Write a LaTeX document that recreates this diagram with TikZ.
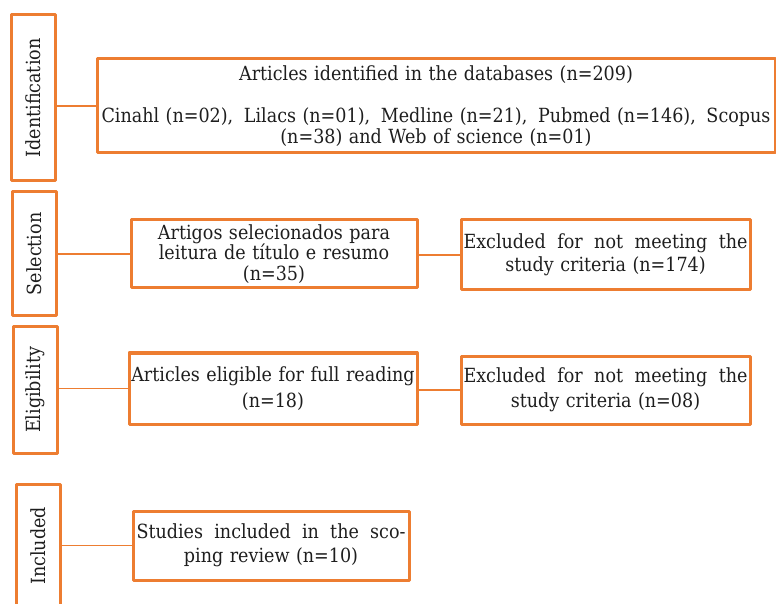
\documentclass[tikz,border=0pt]{standalone}
\usepackage{fontspec}
\setmainfont[FakeStretch=0.9]{DejaVu Serif}
\definecolor{prisma}{RGB}{237,125,49}
\definecolor{ink}{RGB}{30,30,30}

\begin{document}
\begin{tikzpicture}[x=1pt, y=1pt, font=\fontsize{19.5}{20.5}\selectfont, line join=round,
		stage/.style={draw=prisma, line width=3pt, inner sep=0pt, minimum width=44pt, text=ink},
		box/.style={draw=prisma, line width=3pt, inner sep=2pt, align=center, text=ink},
		link/.style={draw=prisma, line width=1.6pt}]
			\useasboundingbox (0,0) rectangle (776,603);
			\clip (0,0) rectangle (776,603);
			
			% phases on the left
			\node[stage, minimum height=166pt] (ident) at (33,505) {\rotatebox{90}{Identification}};
			\node[stage, minimum height=124pt] (selec) at (34,349) {\rotatebox{90}{Selection}};
			\node[stage, minimum height=126pt] (eligib) at (35,213) {\rotatebox{90}{Eligibility}};
			\node[stage, minimum height=124pt] (inclu) at (38,57) {\rotatebox{90}{Included}};
			
			\node[box, minimum width=678pt, minimum height=94pt, text width=669pt] (found) at (436,497)
				{Articles identified in the databases (n=209)\\[22pt]
				Cinahl (n=02),\hfill Lilacs (n=01),\hfill Medline (n=21),\hfill Pubmed (n=146),\hfill Scopus\\
				(n=38) and Web of science (n=01)};
			\node[box, minimum width=286pt, minimum height=68pt, text width=280pt] (screened) at (274,349)
				{Artigos selecionados para\\leitura de título e resumo\\(n=35)};
			\node[box, minimum width=289pt, minimum height=70pt, text width=284pt] (screenout) at (605.5,348)
				{Excluded\hfill for\hfill not\hfill meeting\hfill the\\[2pt]study criteria (n=174)};
			\node[box, minimum width=288pt, minimum height=71pt, text width=284pt] (eligible) at (273,214.5)
				{Articles eligible for full reading\\[5pt](n=18)};
			\node[box, minimum width=289pt, minimum height=68pt, text width=284pt] (eligout) at (605.5,213)
				{Excluded\hfill for\hfill not\hfill meeting\hfill the\\[5pt]study criteria (n=08)};
			\node[box, minimum width=276pt, minimum height=69pt, text width=269pt] (included) at (271,57.5)
				{Studies\hfill included\hfill in\hfill the\hfill sco-\\[3pt]ping review (n=10)};
			
			\draw[link] (ident.east |- found.west) -- (found.west);
			\draw[link] (selec.east |- screened.west) -- (screened.west);
			\draw[link] (screened.east |- screenout.west) -- (screenout.west);
			\draw[link] (eligib.east |- eligible.west) -- (eligible.west);
			\draw[link] (eligible.east |- eligout.west) -- (eligout.west);
			\draw[link] (inclu.east |- included.west) -- (included.west);
		\end{tikzpicture}
\end{document}
